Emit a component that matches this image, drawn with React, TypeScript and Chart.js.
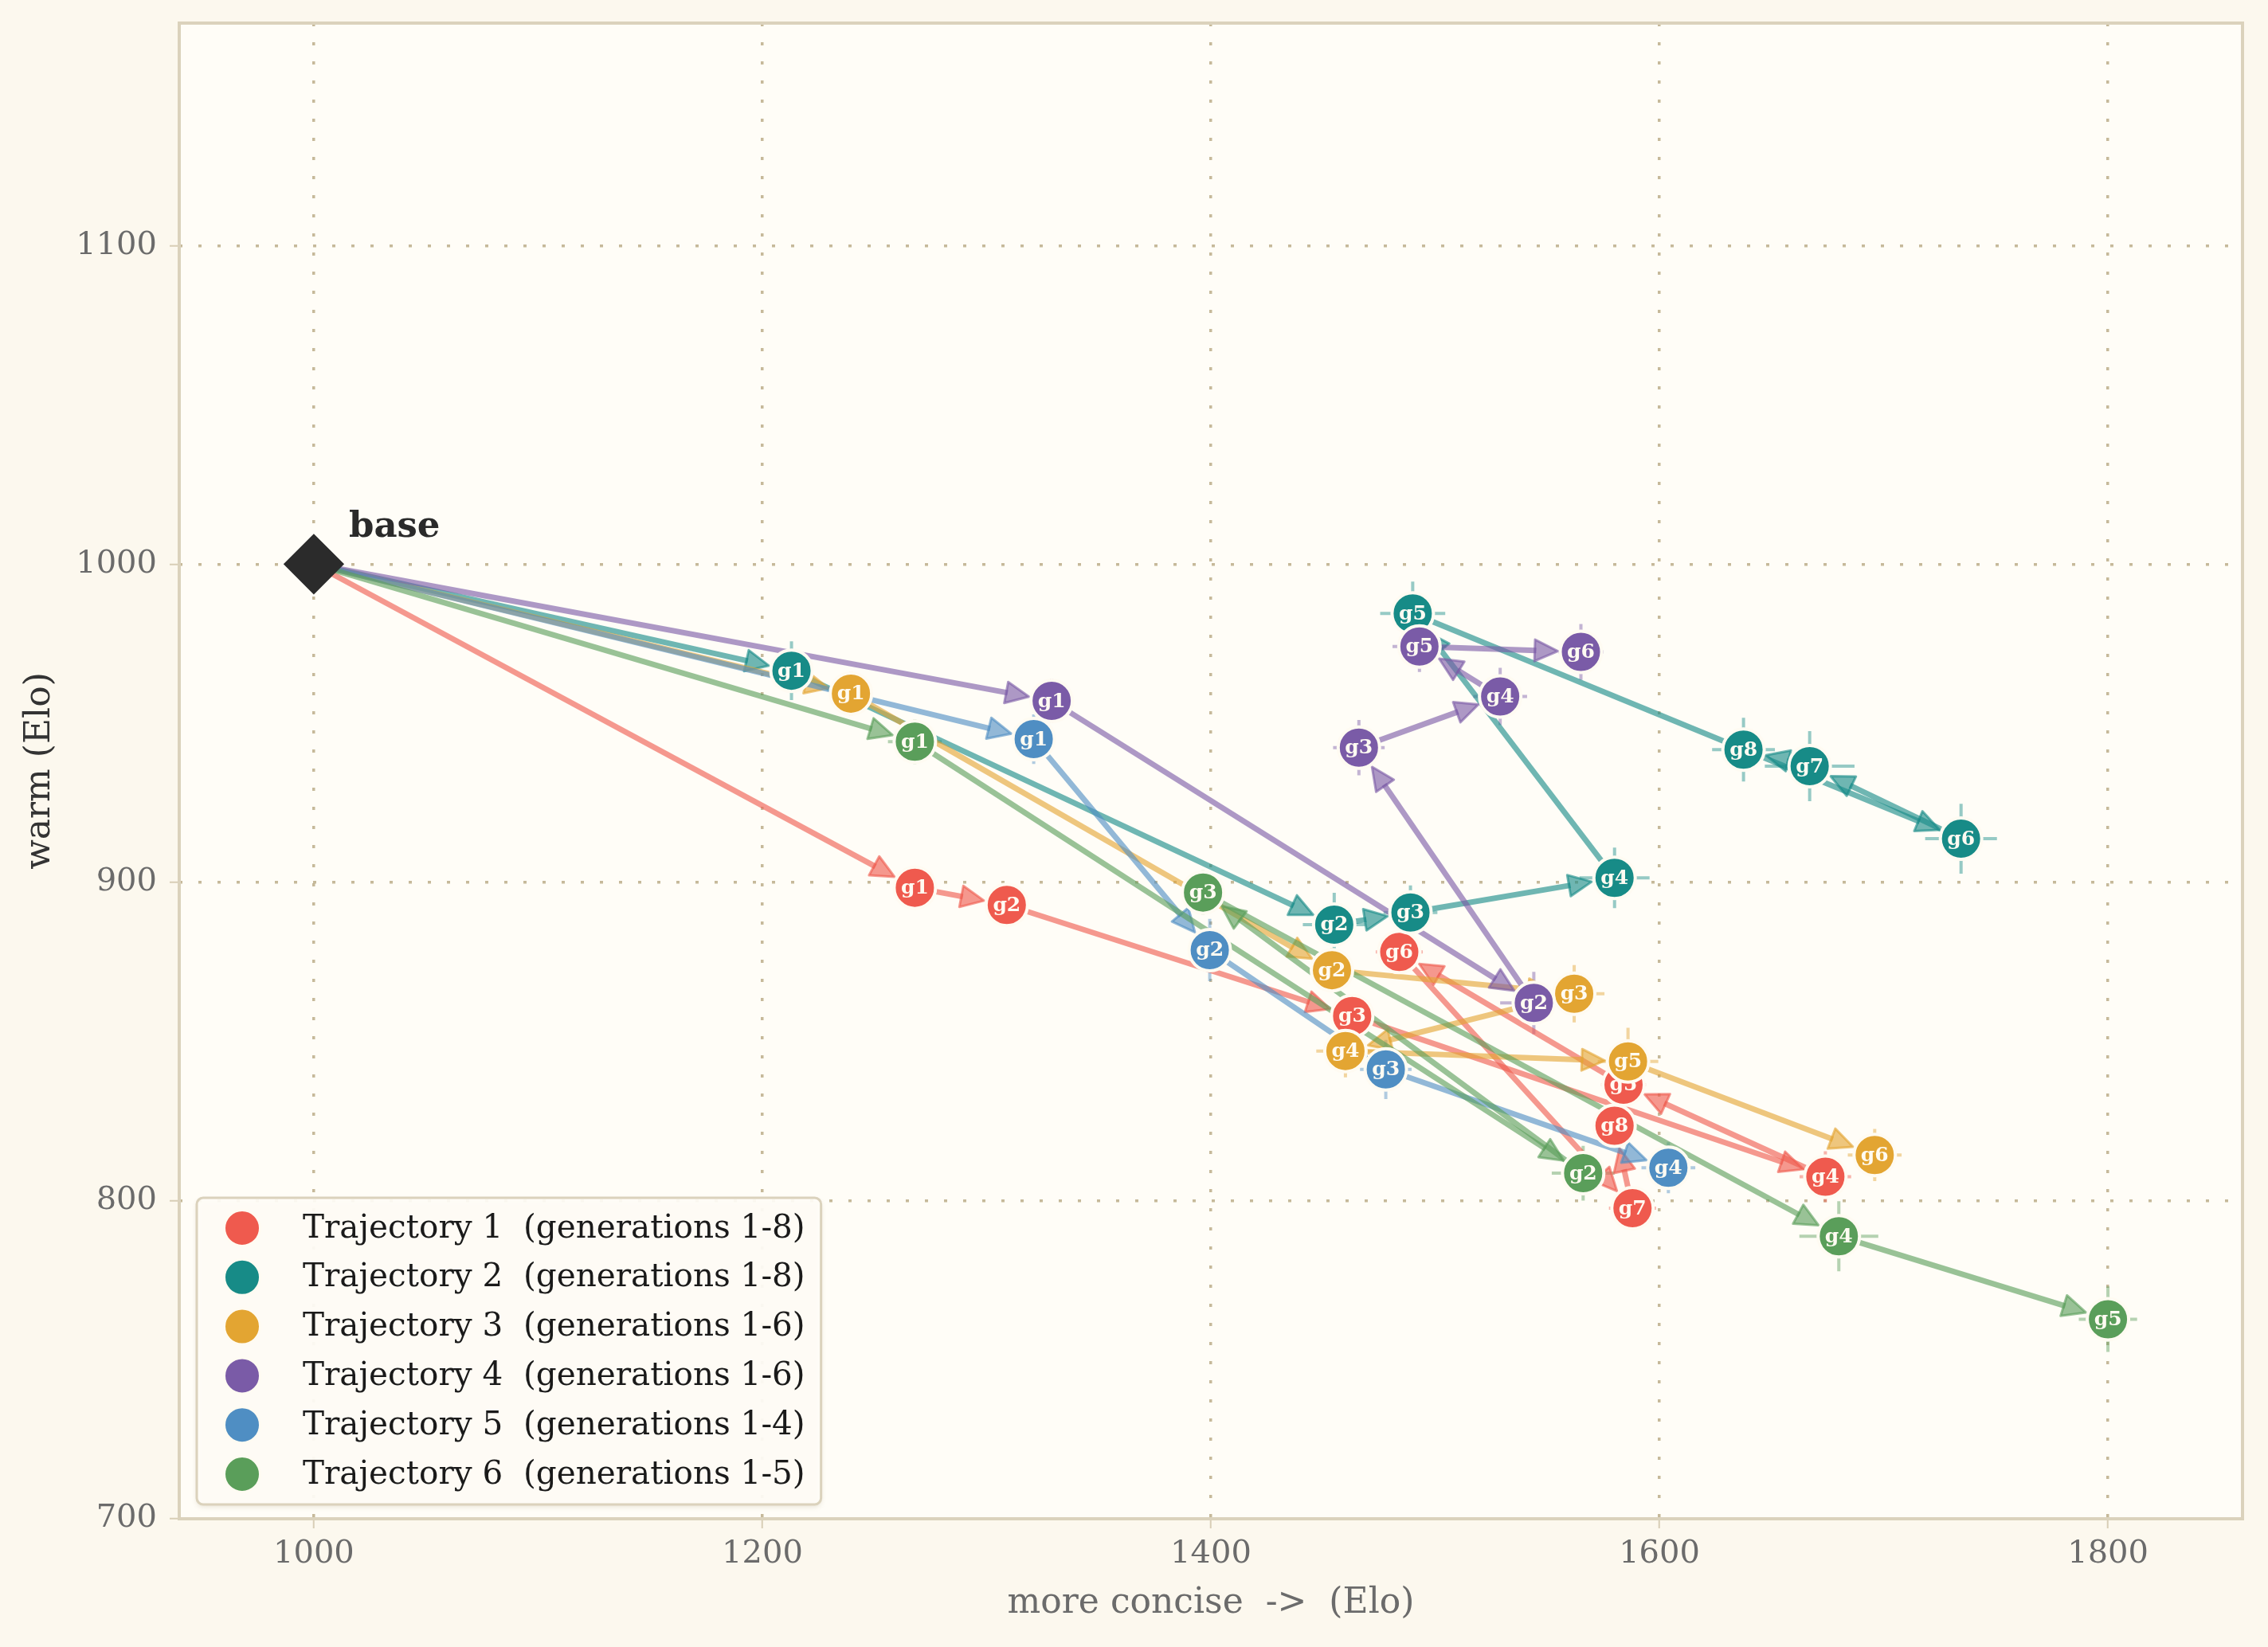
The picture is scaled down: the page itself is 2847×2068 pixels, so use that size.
import { useEffect, useRef } from "react";
import { Chart, registerables } from "chart.js";

Chart.register(...registerables);

const FONT = "'DejaVu Serif', 'Liberation Serif', serif";

// base model
const BASE_X = [1000];
const BASE_Y = [1000];

// Trajectory 1 (generations 1-8)
const T1_X = [1268, 1309, 1463, 1674, 1584, 1484, 1588, 1580];
const T1_Y = [898.3, 892.9, 858, 807.5, 836.4, 878.1, 797.6, 823.5];
const T1_XERR = [8, 8, 9, 11.5, 10, 10.5, 10.5, 9];
const T1_YERR = [6, 6, 6, 8, 6, 6, 6, 6];

// Trajectory 2 (generations 1-8)
const T2_X = [1213, 1455, 1489, 1580, 1490, 1734.5, 1667, 1637.5];
const T2_Y = [966.5, 886.7, 890.5, 901.4, 984.5, 913.7, 936.5, 941.7];
const T2_XERR = [9, 14, 12, 15.6, 14.5, 16, 20, 14];
const T2_YERR = [9.2, 10, 8.5, 9.5, 10, 11, 11, 10];

// Trajectory 3 (generations 1-6)
const T3_X = [1239.5, 1454, 1562, 1460, 1586, 1696];
const T3_Y = [959.3, 872.4, 865, 847, 843.7, 814.3];
const T3_XERR = [8, 9, 13.5, 13, 13.5, 12];
const T3_YERR = [7, 7, 9, 8.3, 10.6, 8.2];

// Trajectory 4 (generations 1-6)
const T4_X = [1329, 1544, 1466, 1529, 1493, 1565];
const T4_Y = [957, 862.1, 942.3, 958.4, 974.1, 972.4];
const T4_XERR = [8, 15, 11.5, 12, 12, 10];
const T4_YERR = [7, 9.8, 8.7, 9, 8, 8.8];

// Trajectory 5 (generations 1-4)
const T5_X = [1321, 1399.5, 1478, 1604];
const T5_Y = [945, 878.7, 841.2, 810.3];
const T5_XERR = [8, 9, 11.5, 12];
const T5_YERR = [7.8, 9.8, 9.3, 8];

// Trajectory 6 (generations 1-5)
const T6_X = [1268, 1566, 1396.5, 1680, 1800];
const T6_Y = [944.2, 808.6, 896.8, 788.8, 762.7];
const T6_XERR = [12, 14, 9, 17.6, 13];
const T6_YERR = [7, 8.6, 7, 11, 10.3];

const X_TICK_STEP = 200;
const Y_TICK_STEP = 100;

const COLORS = ["#EF5A4E", "#178B87", "#E3A532", "#7A5BA7", "#4F8EC3", "#5A9E5A"];

const TRAJ = [
  { x: T1_X, y: T1_Y, xe: T1_XERR, ye: T1_YERR },
  { x: T2_X, y: T2_Y, xe: T2_XERR, ye: T2_YERR },
  { x: T3_X, y: T3_Y, xe: T3_XERR, ye: T3_YERR },
  { x: T4_X, y: T4_Y, xe: T4_XERR, ye: T4_YERR },
  { x: T5_X, y: T5_Y, xe: T5_XERR, ye: T5_YERR },
  { x: T6_X, y: T6_Y, xe: T6_XERR, ye: T6_YERR },
];

const LEGEND_LABELS = TRAJ.map((t, i) => `Trajectory ${i + 1}  (generations 1-${t.x.length})`);

const OUTER_BG = "#FCF8EE";
const INNER_BG = "#FFFDF7";
const FRAME = "#DBD2BC";
const GRID = "rgba(188,173,138,0.85)";
const HALO = "#FFFBF2";

const PT_R = 26;
const END_R = 29;
const HEAD_L = 29;
const HEAD_W = 13.5;

const trajPlugin = {
  id: "traj",
  beforeDraw(chart: any) {
    const { ctx, chartArea: a, width, height } = chart;
    ctx.save();
    ctx.fillStyle = OUTER_BG;
    ctx.fillRect(0, 0, width, height);
    ctx.fillStyle = INNER_BG;
    ctx.fillRect(a.left, a.top, a.right - a.left, a.bottom - a.top);
    ctx.restore();
  },
  beforeDatasetsDraw(chart: any) {
    const { ctx, chartArea: a } = chart;
    const xs = chart.scales.x;
    const ys = chart.scales.y;
    ctx.save();
    ctx.strokeStyle = FRAME;
    ctx.lineWidth = 4;
    ctx.strokeRect(a.left, a.top, a.right - a.left, a.bottom - a.top);

    // error bars
    TRAJ.forEach((t, k) => {
      ctx.strokeStyle = COLORS[k];
      ctx.globalAlpha = 0.45;
      ctx.lineWidth = 4;
      ctx.lineCap = "butt";
      t.x.forEach((xv, i) => {
        const yv = t.y[i];
        const px = xs.getPixelForValue(xv);
        const py = ys.getPixelForValue(yv);
        ctx.beginPath();
        ctx.moveTo(xs.getPixelForValue(xv - t.xe[i]), py);
        ctx.lineTo(xs.getPixelForValue(xv + t.xe[i]), py);
        ctx.moveTo(px, ys.getPixelForValue(yv - t.ye[i]));
        ctx.lineTo(px, ys.getPixelForValue(yv + t.ye[i]));
        ctx.stroke();
      });
    });

    // arrows
    TRAJ.forEach((t, k) => {
      const path = [{ x: BASE_X[0], y: BASE_Y[0] }].concat(t.x.map((xv, i) => ({ x: xv, y: t.y[i] })));
      ctx.strokeStyle = COLORS[k];
      ctx.fillStyle = COLORS[k];
      ctx.globalAlpha = 0.62;
      for (let i = 1; i < path.length; i++) {
        const x0 = xs.getPixelForValue(path[i - 1].x);
        const y0 = ys.getPixelForValue(path[i - 1].y);
        const x1 = xs.getPixelForValue(path[i].x);
        const y1 = ys.getPixelForValue(path[i].y);
        const dx = x1 - x0;
        const dy = y1 - y0;
        const len = Math.hypot(dx, dy);
        if (len < 1) continue;
        const ux = dx / len;
        const uy = dy / len;
        const tipX = x1 - ux * END_R;
        const tipY = y1 - uy * END_R;
        const bX = tipX - ux * HEAD_L;
        const bY = tipY - uy * HEAD_L;
        ctx.lineWidth = 7;
        ctx.lineCap = "butt";
        ctx.beginPath();
        ctx.moveTo(x0, y0);
        ctx.lineTo(bX + ux * 2, bY + uy * 2);
        ctx.stroke();
        ctx.beginPath();
        ctx.moveTo(tipX, tipY);
        ctx.lineTo(bX - uy * HEAD_W, bY + ux * HEAD_W);
        ctx.lineTo(bX + uy * HEAD_W, bY - ux * HEAD_W);
        ctx.closePath();
        ctx.lineJoin = "round";
        ctx.lineWidth = 3;
        ctx.fill();
        ctx.stroke();
      }
    });
    ctx.restore();
  },
  afterDatasetDraw(chart: any, args: any) {
    const idx = args.index;
    if (idx >= TRAJ.length) return;
    const { ctx } = chart;
    ctx.save();
    ctx.font = `bold 25px ${FONT}`;
    ctx.fillStyle = "#FFFBF2";
    ctx.textAlign = "center";
    ctx.textBaseline = "middle";
    args.meta.data.forEach((el: any, i: number) => {
      ctx.fillText(`g${i + 1}`, el.x, el.y + 1);
    });
    ctx.restore();
  },
  afterDatasetsDraw(chart: any) {
    const { ctx, chartArea: a } = chart;
    const xs = chart.scales.x;
    const ys = chart.scales.y;
    ctx.save();
    // base label
    ctx.font = `bold 45px ${FONT}`;
    ctx.fillStyle = "#2A2A2A";
    ctx.textAlign = "left";
    ctx.textBaseline = "alphabetic";
    ctx.fillText("base", xs.getPixelForValue(BASE_X[0]) + 44, ys.getPixelForValue(BASE_Y[0]) - 34);

    // legend
    ctx.font = `40.5px ${FONT}`;
    const tw = Math.max(...LEGEND_LABELS.map((l) => ctx.measureText(l).width));
    const bh = 385;
    const bx = a.left + 22;
    const by = a.bottom - 18 - bh;
    const bw = 133 + tw + 20;
    ctx.save();
    ctx.shadowColor = "rgba(120,100,60,0.18)";
    ctx.shadowBlur = 6;
    ctx.shadowOffsetY = 3;
    ctx.fillStyle = "rgba(255,253,248,0.93)";
    ctx.beginPath();
    ctx.roundRect(bx, by, bw, bh, 8);
    ctx.fill();
    ctx.restore();
    ctx.strokeStyle = FRAME;
    ctx.lineWidth = 3;
    ctx.beginPath();
    ctx.roundRect(bx, by, bw, bh, 8);
    ctx.stroke();
    LEGEND_LABELS.forEach((lab, i) => {
      const cy = by + 38 + i * 61.8;
      ctx.beginPath();
      ctx.arc(bx + 57, cy, 22.5, 0, Math.PI * 2);
      ctx.fillStyle = COLORS[i];
      ctx.fill();
      ctx.strokeStyle = HALO;
      ctx.lineWidth = 3;
      ctx.stroke();
      ctx.fillStyle = "#1A1A1A";
      ctx.textBaseline = "middle";
      ctx.fillText(lab, bx + 133, cy + 1);
    });
    ctx.restore();
  },
};

export default function App() {
  const ref = useRef<HTMLCanvasElement | null>(null);
  useEffect(() => {
    document.body.style.margin = "0";
    document.body.style.background = OUTER_BG;
    const canvas = ref.current;
    if (!canvas) return;
    const datasets: any[] = TRAJ.map((t, k) => ({
      label: LEGEND_LABELS[k],
      data: t.x.map((xv, i) => ({ x: xv, y: t.y[i] })),
      backgroundColor: COLORS[k],
      borderColor: HALO,
      borderWidth: 4,
      pointRadius: PT_R,
      pointHoverRadius: PT_R,
      order: 10 - k,
    }));
    datasets.push({
      label: "base",
      data: BASE_X.map((xv, i) => ({ x: xv, y: BASE_Y[i] })),
      pointStyle: "rectRot",
      backgroundColor: "#2B2B2B",
      borderColor: "#2B2B2B",
      borderWidth: 3,
      pointRadius: 36,
      pointHoverRadius: 36,
      order: 0,
    });
    const fmt = (v: any) => String(v);
    const chart = new Chart(canvas, {
      type: "scatter",
      data: { datasets },
      plugins: [trajPlugin],
      options: {
        responsive: false,
        devicePixelRatio: 1,
        animation: false,
        events: [],
        layout: { autoPadding: false, padding: { top: 29, right: 32, left: 0, bottom: 0 } },
        plugins: { legend: { display: false }, tooltip: { enabled: false } },
        scales: {
          x: {
            type: "linear",
            min: 940,
            max: 1860,
            afterFit: (s: any) => {
              s.height = 161;
              s.paddingLeft = 0;
              s.paddingRight = 0;
            },
            ticks: {
              stepSize: X_TICK_STEP,
              includeBounds: false,
              callback: fmt,
              color: "#6B6B6B",
              font: { family: FONT, size: 40 },
              padding: 9,
            },
            grid: {
              color: GRID,
              lineWidth: 3.5,
              tickColor: "#D8CEB6",
              tickWidth: 2,
              tickLength: 12,
            },
            border: { display: false, dash: [4, 20] },
            title: {
              display: true,
              text: "more concise  ->  (Elo)",
              color: "#6B6B6B",
              font: { family: FONT, size: 44 },
              padding: { top: 0, bottom: 28 },
            },
          },
          y: {
            type: "linear",
            min: 700,
            max: 1170,
            afterFit: (s: any) => {
              s.width = 225;
              s.paddingTop = 0;
              s.paddingBottom = 0;
            },
            ticks: {
              stepSize: Y_TICK_STEP,
              includeBounds: false,
              callback: fmt,
              color: "#6B6B6B",
              font: { family: FONT, size: 40 },
              padding: 16,
            },
            grid: {
              color: GRID,
              lineWidth: 3.5,
              tickColor: "#D8CEB6",
              tickWidth: 2,
              tickLength: 12,
            },
            border: { display: false, dash: [4, 20] },
            title: {
              display: true,
              text: "warm (Elo)",
              color: "#333333",
              font: { family: FONT, size: 44 },
              padding: { top: 24, bottom: 0 },
            },
          },
        },
      },
    });
    return () => chart.destroy();
  }, []);
  return <canvas ref={ref} width={2847} height={2068} style={{ display: "block", width: "2847px", height: "2068px" }} />;
}
